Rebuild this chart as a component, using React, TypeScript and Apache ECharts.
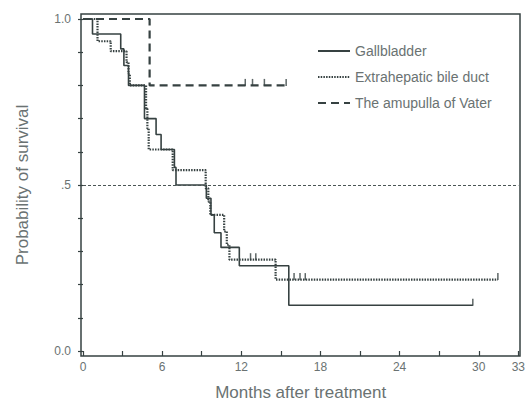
import React, { useEffect, useRef } from "react";
import * as echarts from "echarts";

// Kaplan–Meier step points: months after treatment, probability of survival
const gallbladderMonths = [0, 0.72, 2.86, 3.1, 3.45, 4.66, 5.54, 5.92, 6.93, 7.05, 9.35, 9.7, 9.95, 10.46, 11.85, 15.6, 29.55];
const gallbladderSurv = [1.0, 0.955, 0.91, 0.86, 0.8, 0.7, 0.652, 0.607, 0.553, 0.5, 0.46, 0.41, 0.356, 0.312, 0.257, 0.138, 0.138];

const bileDuctMonths = [0, 1.1, 2.1, 3.3, 3.45, 3.55, 4.78, 4.88, 4.98, 6.8, 9.3, 9.5, 9.65, 10.7, 10.9, 11.1, 14.6, 31.45];
const bileDuctSurv = [1.0, 0.933, 0.903, 0.87, 0.835, 0.8, 0.73, 0.67, 0.607, 0.545, 0.49, 0.45, 0.41, 0.36, 0.32, 0.275, 0.215, 0.215];

const vaterMonths = [0, 5.05, 15.4];
const vaterSurv = [1.0, 0.8, 0.8];

// censored observations
const gallbladderCensorMonths = [29.55];
const gallbladderCensorSurv = [0.138];
const bileDuctCensorMonths = [12.7, 13.1, 16.0, 16.45, 16.85, 31.45];
const bileDuctCensorSurv = [0.275, 0.275, 0.215, 0.215, 0.215, 0.215];
const vaterCensorMonths = [12.3, 12.85, 13.75, 15.4];
const vaterCensorSurv = [0.8, 0.8, 0.8, 0.8];

const seriesNames = ["Gallbladder", "Extrahepatic bile duct", "The amupulla of Vater"];
const xTickLabels = [0, 6, 12, 18, 24, 30, 33];
const yTickValues = [0, 0.5, 1];
const yTickLabels = ["0.0", ".5", "1.0"];
const referenceLevel = 0.5;

const LINE = "#364141";
const TEXT = "#6a7272";
const FONT = "Liberation Sans, Arial, sans-serif";

const zip = (a: number[], b: number[]) => a.map((v, i) => [v, b[i]]);

export default function App() {
  const ref = useRef<HTMLDivElement>(null);
  useEffect(() => {
    if (!ref.current) return;
    const chart = echarts.init(ref.current, undefined, { renderer: "svg" });
    const censor = (name: string, xs: number[], ys: number[]) => ({
      type: "scatter",
      name: name + " censored",
      data: zip(xs, ys),
      symbol: "rect",
      symbolSize: [1.5, 7],
      symbolOffset: [0, -3],
      itemStyle: { color: LINE },
      silent: true,
      z: 3,
    });
    chart.setOption({
      animation: false,
      textStyle: { fontFamily: FONT },
      grid: { left: 83, right: 9, top: 19, bottom: 50 },
      graphic: [
        {
          type: "rect",
          shape: { x: 81, y: 14, width: 439, height: 342 },
          style: { fill: "none", stroke: LINE, lineWidth: 1.5 },
          z: 10,
          silent: true,
        },
      ],
      legend: {
        orient: "vertical",
        left: 312,
        top: 39,
        itemWidth: 32,
        itemHeight: 14,
        itemGap: 12,
        data: seriesNames,
        itemStyle: { opacity: 0 },
        textStyle: { color: TEXT, fontSize: 14, fontFamily: FONT },
      },
      xAxis: {
        type: "value",
        min: 0,
        max: 33,
        interval: 3,
        name: "Months after treatment",
        nameLocation: "middle",
        nameGap: 33,
        nameTextStyle: { color: TEXT, fontSize: 17, fontFamily: FONT },
        axisLine: { show: false },
        axisTick: { show: true, length: 5, lineStyle: { color: LINE, width: 1.2 } },
        splitLine: { show: false },
        axisLabel: {
          color: TEXT,
          fontSize: 12,
          margin: 10,
          formatter: (v: number) => (xTickLabels.some((t) => Math.abs(t - v) < 1e-6) ? String(v) : ""),
        },
      },
      yAxis: {
        type: "value",
        min: 0,
        max: 1,
        interval: 0.1,
        offset: 2,
        name: "Probability of survival",
        nameLocation: "middle",
        nameGap: 50,
        nameTextStyle: { color: TEXT, fontSize: 17, fontFamily: FONT },
        axisLine: { show: false },
        axisTick: { show: true, length: 5, lineStyle: { color: LINE, width: 1.2 } },
        splitLine: { show: false },
        axisLabel: {
          color: TEXT,
          fontSize: 12,
          margin: 10,
          formatter: (v: number) => {
            const i = yTickValues.findIndex((t) => Math.abs(t - v) < 1e-6);
            return i >= 0 ? yTickLabels[i] : "";
          },
        },
      },
      series: [
        {
          type: "line",
          name: seriesNames[0],
          step: "end",
          symbol: "none",
          data: zip(gallbladderMonths, gallbladderSurv),
          lineStyle: { color: LINE, width: 1.6, type: "solid" },
          itemStyle: { color: LINE },
          markLine: {
            silent: true,
            symbol: "none",
            label: { show: false },
            lineStyle: { color: "#4a5555", width: 1.2, type: [3, 2] },
            data: [{ yAxis: referenceLevel }],
          },
        },
        {
          type: "line",
          name: seriesNames[1],
          step: "end",
          symbol: "none",
          data: zip(bileDuctMonths, bileDuctSurv),
          lineStyle: { color: LINE, width: 2.2, type: [1.5, 1.2] },
          itemStyle: { color: LINE },
        },
        {
          type: "line",
          name: seriesNames[2],
          step: "end",
          symbol: "none",
          data: zip(vaterMonths, vaterSurv),
          lineStyle: { color: LINE, width: 2.2, type: [8, 5] },
          itemStyle: { color: LINE },
        },
        censor(seriesNames[0], gallbladderCensorMonths, gallbladderCensorSurv),
        censor(seriesNames[1], bileDuctCensorMonths, bileDuctCensorSurv),
        censor(seriesNames[2], vaterCensorMonths, vaterCensorSurv),
      ],
    });
    return () => chart.dispose();
  }, []);
  return (
    <div
      ref={ref}
      style={{ position: "fixed", left: 0, top: 0, width: 528, height: 406, background: "#fff" }}
    />
  );
}
